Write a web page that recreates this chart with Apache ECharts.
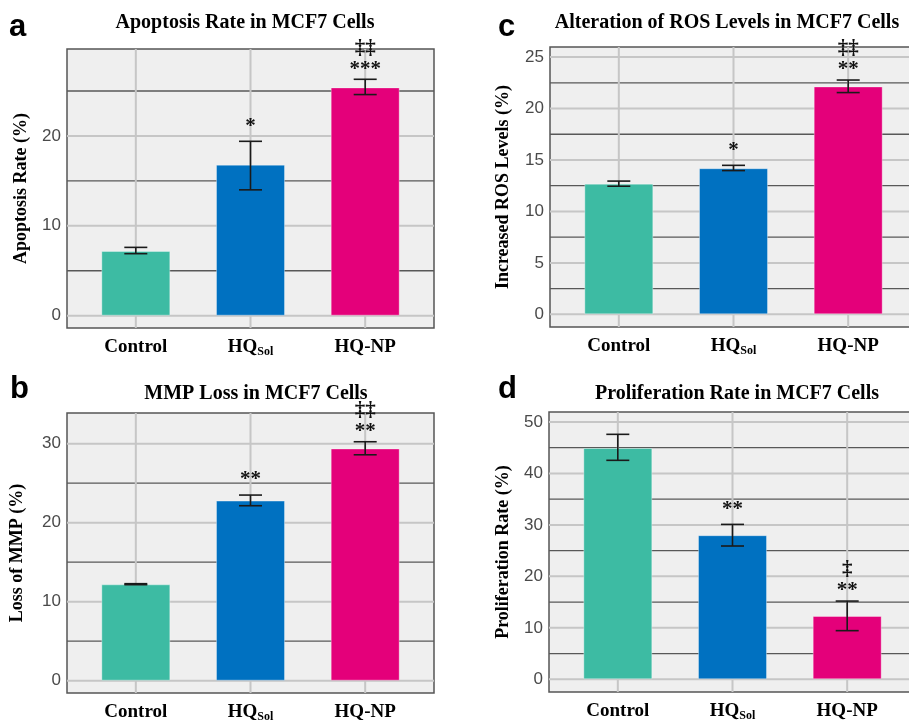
<!DOCTYPE html>
<html>
<head>
<meta charset="utf-8">
<script src="https://cdn.jsdelivr.net/npm/echarts@6/dist/echarts.min.js"></script>
<style>
html,body{margin:0;padding:0;background:#fff;}
#chart{width:909px;height:720px;}
</style>
</head>
<body>
<div id="chart"></div>
<script>
// ---------- data ----------
const categories = ['Control', 'HQ', 'HQ-NP'];
const categorySubs = ['', 'Sol', ''];
const catPos = [1, 2, 3];

// (a) Apoptosis
const apoptosisMean = [7.2, 16.8, 25.4];
const apoptosisLow = [6.9, 14.0, 24.6];
const apoptosisHigh = [7.6, 19.4, 26.3];
const apoptosisStars = ['', '*', '***'];
const apoptosisDaggers = ['', '', '‡‡'];
const apoptosisTicks = [0, 10, 20];
const apoptosisMinor = [5, 15, 25];

// (c) ROS
const rosMean = [12.7, 14.2, 22.15];
const rosLow = [12.45, 13.97, 21.55];
const rosHigh = [12.95, 14.48, 22.77];
const rosStars = ['', '*', '**'];
const rosDaggers = ['', '', '‡‡'];
const rosTicks = [0, 5, 10, 15, 20, 25];
const rosMinor = [2.5, 7.5, 12.5, 17.5, 22.5];

// (b) MMP
const mmpMean = [12.2, 22.8, 29.4];
const mmpLow = [12.15, 22.15, 28.6];
const mmpHigh = [12.28, 23.5, 30.25];
const mmpStars = ['', '**', '**'];
const mmpDaggers = ['', '', '‡‡'];
const mmpTicks = [0, 10, 20, 30];
const mmpMinor = [5, 15, 25];

// (d) Proliferation
const profMean = [44.95, 28.0, 12.3];
const profLow = [42.55, 25.9, 9.45];
const profHigh = [47.6, 30.1, 15.2];
const profStars = ['', '**', '**'];
const profDaggers = ['', '', '‡'];
const profTicks = [0, 10, 20, 30, 40, 50];
const profMinor = [5, 15, 25, 35, 45];

// ---------- styles ----------
const barColors = ['#3dbba3', '#0071c1', '#e4007a'];
const SERIF = '"Liberation Serif", "Times New Roman", serif';
const SANS = '"Liberation Sans", Arial, sans-serif';

const panels = [
  {letter: 'a', title: 'Apoptosis Rate in MCF7 Cells', yName: 'Apoptosis Rate (%)',
   mean: apoptosisMean, low: apoptosisLow, high: apoptosisHigh, stars: apoptosisStars, daggers: apoptosisDaggers,
   ticks: apoptosisTicks, minor: apoptosisMinor, ymin: -1.37, ymax: 29.67,
   grid: {left: 67, top: 49, width: 367, height: 279}, titleX: 245, titleTop: 13, letterX: 9, letterTop: 12, nameGap: 37},
  {letter: 'c', title: 'Alteration of ROS Levels in MCF7 Cells', yName: 'Increased ROS Levels (%)',
   mean: rosMean, low: rosLow, high: rosHigh, stars: rosStars, daggers: rosDaggers,
   ticks: rosTicks, minor: rosMinor, ymin: -1.23, ymax: 25.98,
   grid: {left: 550, top: 47, width: 367, height: 280}, titleX: 727, titleTop: 13, letterX: 498, letterTop: 12, nameGap: 38},
  {letter: 'b', title: 'MMP Loss in MCF7 Cells', yName: 'Loss of MMP (%)',
   mean: mmpMean, low: mmpLow, high: mmpHigh, stars: mmpStars, daggers: mmpDaggers,
   ticks: mmpTicks, minor: mmpMinor, ymin: -1.56, ymax: 33.89,
   grid: {left: 67, top: 413, width: 367, height: 280}, titleX: 256, titleTop: 384, letterX: 10, letterTop: 374, nameGap: 41},
  {letter: 'd', title: 'Proliferation Rate in MCF7 Cells', yName: 'Proliferation Rate (%)',
   mean: profMean, low: profLow, high: profHigh, stars: profStars, daggers: profDaggers,
   ticks: profTicks, minor: profMinor, ymin: -2.47, ymax: 51.94,
   grid: {left: 549, top: 412, width: 367, height: 280}, titleX: 737, titleTop: 384, letterX: 498, letterTop: 374, nameGap: 37}
];

const option = {
  animation: false,
  backgroundColor: '#ffffff',
  title: [], grid: [], xAxis: [], yAxis: [], series: []
};

panels.forEach(function (p, gi) {
  option.title.push({
    text: p.title, left: p.titleX, top: p.titleTop, textAlign: 'center', padding: 0,
    textStyle: {fontFamily: SERIF, fontWeight: 'bold', fontSize: 20, color: '#000'}
  });
  option.title.push({
    text: p.letter, left: p.letterX, top: p.letterTop, padding: 0,
    textStyle: {fontFamily: SANS, fontWeight: 'bold', fontSize: 31, color: '#000'}
  });
  option.grid.push(Object.assign({
    show: true, backgroundColor: '#efefef', borderColor: '#555', borderWidth: 1.5,
    containLabel: false, outerBoundsMode: 'none'
  }, p.grid));
  option.xAxis.push({
    type: 'value', gridIndex: gi, min: 0.4, max: 3.6,
    axisLine: {show: false}, axisTick: {show: false}, splitLine: {show: false},
    axisLabel: {
      customValues: catPos, margin: 10,
      formatter: function (v) {
        const i = Math.round(v) - 1;
        if (i < 0 || i > 2) return '';
        return categorySubs[i] ? '{main|' + categories[i] + '}{sub|' + categorySubs[i] + '}' : '{main|' + categories[i] + '}';
      },
      rich: {
        main: {fontFamily: SERIF, fontWeight: 'bold', fontSize: 19, color: '#000', lineHeight: 20, verticalAlign: 'top'},
        sub: {fontFamily: SERIF, fontWeight: 'bold', fontSize: 12, color: '#000', lineHeight: 12, padding: [13, 0, 0, 0], verticalAlign: 'bottom'}
      }
    }
  });
  option.yAxis.push({
    type: 'value', gridIndex: gi, min: p.ymin, max: p.ymax,
    name: p.yName, nameLocation: 'middle', nameGap: p.nameGap, nameRotate: 90,
    nameTextStyle: {fontFamily: SERIF, fontWeight: 'bold', fontSize: 18, color: '#000'},
    axisLine: {show: false}, axisTick: {show: false}, splitLine: {show: false},
    axisLabel: {customValues: p.ticks, margin: 6, fontFamily: SANS, fontSize: 17, color: '#4a4a4a'}
  });
  // gridlines
  const gridData = [];
  p.ticks.forEach(function (v) { gridData.push([v, 0]); });
  p.minor.forEach(function (v) { gridData.push([v, 1]); });
  catPos.forEach(function (v) { gridData.push([v, 2]); });
  option.series.push({
    type: 'custom', xAxisIndex: gi, yAxisIndex: gi, z: 1, silent: true,
    data: gridData, encode: {x: -1, y: -1},
    renderItem: function (params, api) {
      const cs = params.coordSys;
      const v = api.value(0), kind = api.value(1);
      if (kind === 2) {
        const x = api.coord([v, 0])[0];
        return {type: 'line', shape: {x1: x, y1: cs.y, x2: x, y2: cs.y + cs.height},
          style: {stroke: '#c6c6c6', lineWidth: 2}};
      }
      const y = api.coord([2, v])[1];
      return {type: 'line', shape: {x1: cs.x, y1: y, x2: cs.x + cs.width, y2: y},
        style: {stroke: kind === 0 ? '#c6c6c6' : '#585858', lineWidth: kind === 0 ? 2 : 1.3}};
    }
  });
  // bars
  option.series.push({
    type: 'bar', xAxisIndex: gi, yAxisIndex: gi, z: 2, barWidth: 69, silent: true,
    data: p.mean.map(function (m, i) {
      return {value: [catPos[i], m], itemStyle: {color: barColors[i], borderColor: 'rgba(255,255,255,0.35)', borderWidth: 1}};
    })
  });
  // error bars
  option.series.push({
    type: 'custom', xAxisIndex: gi, yAxisIndex: gi, z: 3, silent: true,
    data: p.mean.map(function (m, i) { return [catPos[i], p.low[i], p.high[i]]; }),
    encode: {x: 0, y: [1, 2]},
    renderItem: function (params, api) {
      const lo = api.coord([api.value(0), api.value(1)]);
      const hi = api.coord([api.value(0), api.value(2)]);
      const hw = 11.5;
      const st = {stroke: '#1a1a1a', lineWidth: 1.6};
      return {type: 'group', children: [
        {type: 'line', shape: {x1: lo[0], y1: lo[1], x2: hi[0], y2: hi[1]}, style: st},
        {type: 'line', shape: {x1: hi[0] - hw, y1: hi[1], x2: hi[0] + hw, y2: hi[1]}, style: st},
        {type: 'line', shape: {x1: lo[0] - hw, y1: lo[1], x2: lo[0] + hw, y2: lo[1]}, style: st}
      ]};
    }
  });
  // significance annotations
  option.series.push({
    type: 'custom', xAxisIndex: gi, yAxisIndex: gi, z: 4, silent: true,
    data: p.mean.map(function (m, i) { return [catPos[i], p.high[i], i]; }),
    encode: {x: 0, y: 1},
    renderItem: function (params, api) {
      const i = api.value(2);
      const pt = api.coord([api.value(0), api.value(1)]);
      const children = [];
      const s = p.stars[i], d = p.daggers[i];
      const starOff = d ? 10 : 15;
      if (s) children.push({type: 'text', style: {text: s, x: pt[0], y: pt[1] - starOff, align: 'center', verticalAlign: 'middle',
        font: 'bold 21px ' + SERIF, fill: '#111'}});
      if (d) children.push({type: 'text', style: {text: d, x: pt[0], y: pt[1] - 31, align: 'center', verticalAlign: 'middle',
        font: 'bold 21px ' + SERIF, fill: '#111'}});
      return {type: 'group', children: children};
    }
  });
});

const chart = echarts.init(document.getElementById('chart'), null, {renderer: 'canvas'});
chart.setOption(option);
</script>
</body>
</html>
